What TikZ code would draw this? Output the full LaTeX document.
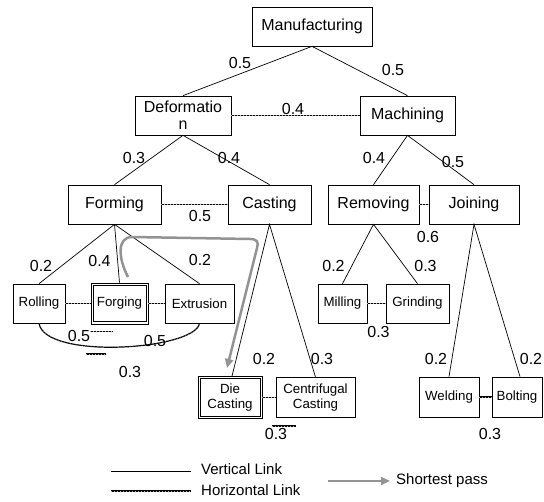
\documentclass[tikz,border=0pt]{standalone}
\usepackage{fontspec}
\setmainfont{Liberation Sans}
\usetikzlibrary{arrows.meta}
\usetikzlibrary{positioning}

\begin{document}
\begin{tikzpicture}[x=1pt,y=-1pt,
  box/.style={draw,line width=0.7pt,inner sep=0pt,minimum height=39pt,align=center,font=\fontsize{16}{18}\selectfont},
  sbox/.style={box,font=\fontsize{13.3}{15}\selectfont},
  inbox/.style={line width=0.7pt},
  wt/.style={inner sep=0pt,font=\fontsize{16}{18}\selectfont},
  lgd/.style={inner sep=0pt,anchor=west,font=\fontsize{15}{17}\selectfont},
  vlink/.style={line width=0.7pt},
  hlink/.style={line width=1.2pt,postaction={draw=gray!60,line width=0.4pt,dash pattern=on 0.6pt off 2.4pt}},
  spath/.style={draw=gray!85,line width=2.5pt,-{Triangle[length=9pt,width=8pt]}}]
\useasboundingbox (0,0) rectangle (544,502);
  % levels
  \node[box,minimum width=120pt] (man) at (312,26.5) {Manufacturing};
  \node[box,minimum width=96pt] (def) at (183,115.5) {Deformatio\\[-1pt]n};
  \node[box,minimum width=95pt] (mac) at (407.5,115.5) {Machining};
  \node[box,minimum width=93pt] (for) at (114.5,204.5) {Forming};
  \node[box,minimum width=83pt] (cas) at (269.5,204.5) {Casting};
  \node[box,minimum width=91pt] (rem) at (373.5,204.5) {Removing};
  \node[box,minimum width=90pt] (joi) at (474,204.5) {Joining};
  \node[sbox,minimum width=52pt] (rol) at (39,303.5) {Rolling};
  \node[sbox,minimum width=57pt,minimum height=41pt] (frg) at (119.5,303.5) {Forging};
  \node[sbox,minimum width=69pt] (ext) at (199.5,303.5) {Extrusion};
  \node[sbox,minimum width=49pt] (mil) at (342.5,303.5) {Milling};
  \node[sbox,minimum width=63pt] (gri) at (417.5,303.5) {Grinding};
  \node[sbox,minimum width=64pt,minimum height=42pt] (die) at (230,397.5) {Die\\Casting};
  \node[sbox,minimum width=79pt,minimum height=40pt] (cen) at (315.5,397.5) {Centrifugal\\Casting};
  \node[sbox,minimum width=60pt,minimum height=40pt] (wel) at (449,397) {Welding};
  \node[sbox,minimum width=50pt,minimum height=40pt] (bol) at (517,397) {Bolting};
  % double frames
  \draw[inbox]([shift={(2.5,2.5)}]frg.north west) rectangle ([shift={(-2.5,-2.5)}]frg.south east);
  \draw[inbox]([shift={(2.5,2.5)}]die.north west) rectangle ([shift={(-2.5,-2.5)}]die.south east);
  % vertical links
  \draw[vlink](def.north)--(man.south)--(mac.north);
  \draw[vlink](for.north)--(def.south)--(cas.north);
  \draw[vlink](rem.north)--(mac.south)--(joi.north);
  \draw[vlink](rol.north)--(for.south)--(ext.north);
  \draw[vlink](for.south)--(frg.north);
  \draw[vlink]([xshift=2pt]die.north)--(cas.south)--(cen.north);
  \draw[vlink](mil.north)--(rem.south)--(gri.north);
  \draw[vlink](wel.north)--(joi.south)--([xshift=3pt]bol.north);
  % horizontal links
  \draw[hlink](def)--(mac);
  \draw[hlink](for)--(cas);
  \draw[hlink](rem)--(joi);
  \draw[hlink](rol)--(frg);
  \draw[hlink](frg)--(ext);
  \draw[hlink](mil)--(gri);
  \draw[hlink](die)--(cen);
  \draw[hlink](wel)--(bol);
  \draw[hlink](rol.south) .. controls (45,360) and (195,350) .. (ext.south);
  \draw[hlink](90,331.7)--(113,331.7);
  \draw[hlink](86,354)--(106,354);
  \draw[hlink](272,426)--(296,426);
  % weights
  \node[wt] (w1) at (240,63) {0.5};
  \node[wt] (w2) at (393,70) {0.5};
  \node[wt] (w3) at (293,109) {0.4};
  \node[wt] (w4) at (134,158) {0.3};
  \node[wt] (w5) at (229,158) {0.4};
  \node[wt] (w6) at (374,158) {0.4};
  \node[wt] (w7) at (453,162) {0.5};
  \node[wt] (w8) at (200,216) {0.5};
  \node[wt] (w9) at (428,237) {0.6};
  \node[wt] (w10) at (41,266) {0.2};
  \node[wt] (w11) at (99.5,261) {0.4};
  \node[wt] (w12) at (200,260) {0.2};
  \node[wt] (w13) at (333.5,266) {0.2};
  \node[wt] (w14) at (425.5,266) {0.3};
  \node[wt] (w15) at (378.5,332) {0.3};
  \node[wt] (w16) at (79,336) {0.5};
  \node[wt] (w17) at (155,341) {0.5};
  \node[wt] (w18) at (130,372) {0.3};
  \node[wt] (w19) at (264,359) {0.2};
  \node[wt] (w20) at (322,359) {0.3};
  \node[wt] (w21) at (276,434) {0.3};
  \node[wt] (w22) at (436,359) {0.2};
  \node[wt] (w23) at (531,359) {0.2};
  \node[wt] (w24) at (490,434) {0.3};
  % shortest pass
  \coordinate (sp) at (128,277);
  \coordinate (se) at (227,368);
  \draw[spath](sp) .. controls (118,258) and (117,237) .. (132,237) -- (250,239)
     .. controls (257,239) and (259,242) .. (257,248) -- (se);
  % legend
  \node[lgd] (lv) at (201,469) {Vertical Link};
  \node[lgd] (lh) at (201,490) {Horizontal Link};
  \node[lgd] (ls) at (396,481) {Shortest pass};
  \coordinate (lv0) at (111,471);
  \coordinate (lh0) at (111,491);
  \coordinate (ls0) at (328,481);
  \draw[vlink](lv0)--++(80,0);
  \draw[hlink](lh0)--++(80,0);
  \draw[spath](ls0)--++(62,0);
\end{tikzpicture}
\end{document}
